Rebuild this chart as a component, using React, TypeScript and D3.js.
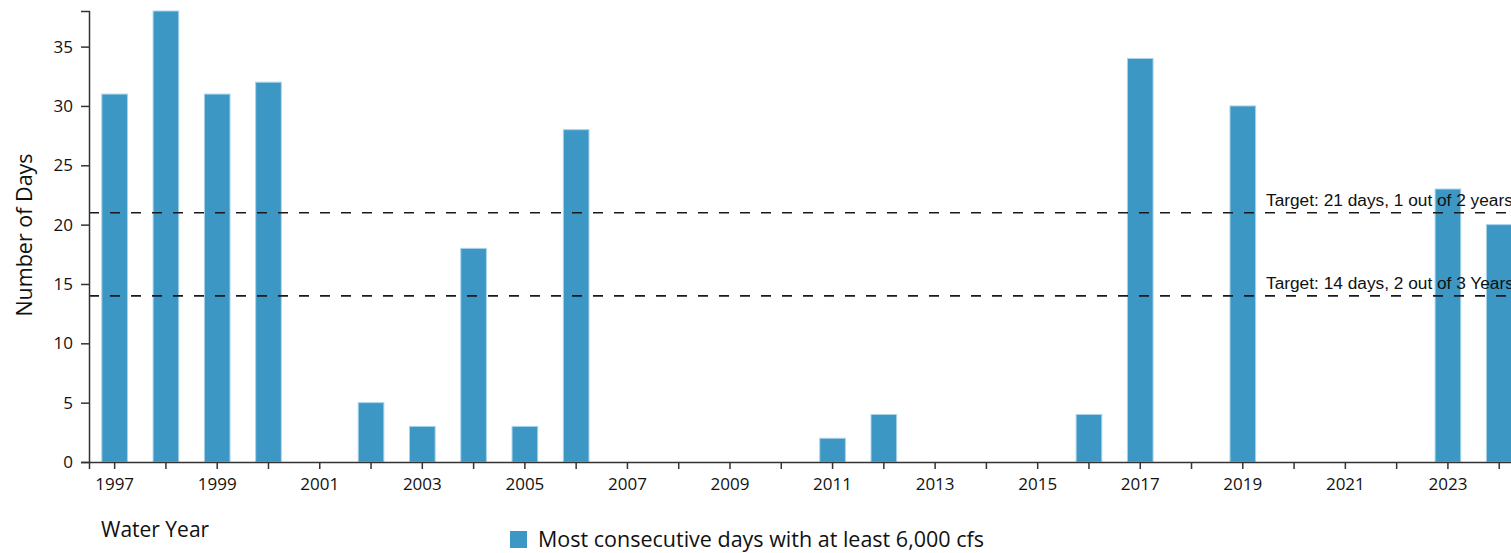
import React, { useEffect, useRef } from "react";
import * as d3 from "d3";

const years: number[] = [1997, 1998, 1999, 2000, 2001, 2002, 2003, 2004, 2005, 2006, 2007, 2008, 2009, 2010, 2011, 2012, 2013, 2014, 2015, 2016, 2017, 2018, 2019, 2020, 2021, 2022, 2023, 2024];
const days: number[] = [31, 38, 31, 32, 0, 5, 3, 18, 3, 28, 0, 0, 0, 0, 2, 4, 0, 0, 0, 4, 34, 0, 30, 0, 0, 0, 23, 20];
const yTicks: number[] = [0, 5, 10, 15, 20, 25, 30, 35];
const targetValues: number[] = [21, 14];
const targetLabels: string[] = ["Target: 21 days, 1 out of 2 years", "Target: 14 days, 2 out of 3 Years"];
const seriesName = "Most consecutive days with at least 6,000 cfs";
const xTitle = "Water Year";
const yTitle = "Number of Days";

const W = 1511;
const H = 553;
const BAR = "#3c97c4";
const AXIS = "#333";
const FONT = "'Open Sans', sans-serif";

export default function App() {
  const ref = useRef<SVGSVGElement>(null);
  useEffect(() => {
    const svg = d3.select(ref.current);
    svg.selectAll("*").remove();
    const x = d3.scaleBand<string>()
      .domain(years.map(String))
      .range([89, 89 + 51.28 * 28])
      .paddingInner(0.5)
      .paddingOuter(0.25);
    const y = d3.scaleLinear().domain([0, 38]).range([462, 11]);

    // bars
    svg.append("g").selectAll("rect")
      .data(years.map((yr, i) => ({ yr: String(yr), v: days[i] })).filter(d => d.v > 0))
      .join("rect")
      .attr("x", d => x(d.yr)!)
      .attr("y", d => y(d.v))
      .attr("width", x.bandwidth())
      .attr("height", d => y(0) - y(d.v))
      .attr("fill", BAR)
      .attr("stroke", "#a9d3ea")
      .attr("stroke-width", 1);

    // target lines
    const tg = svg.append("g");
    targetValues.forEach((t, i) => {
      tg.append("line")
        .attr("x1", 89).attr("x2", W)
        .attr("y1", y(t)).attr("y2", y(t))
        .attr("stroke", "#1a1a1a").attr("stroke-width", 1.6)
        .attr("stroke-dasharray", "10,11");
      tg.append("text")
        .attr("x", 1266).attr("y", y(t) - 7)
        .attr("font-family", "'Liberation Sans', Arial, sans-serif")
        .attr("font-size", 17.3)
        .attr("fill", "#111")
        .text(targetLabels[i]);
    });

    // x axis
    const xAxis = d3.axisBottom(x)
      .tickSizeInner(7)
      .tickSizeOuter(7)
      .tickPadding(9)
      .tickFormat(d => (+d % 2 === 1 ? d : ""));
    const gx = svg.append("g").attr("transform", `translate(0,${y(0)})`).call(xAxis);
    gx.selectAll("path,line").attr("stroke", AXIS).attr("stroke-width", 1.5);
    gx.selectAll("text").attr("font-family", FONT).attr("font-size", 17).attr("fill", "#111");

    // y axis
    const yAxis = d3.axisLeft(y).tickValues(yTicks).tickSizeInner(8).tickSizeOuter(8).tickPadding(8);
    const gy = svg.append("g").attr("transform", "translate(89,0)").call(yAxis);
    gy.selectAll("path,line").attr("stroke", AXIS).attr("stroke-width", 1.5);
    gy.selectAll("text").attr("font-family", FONT).attr("font-size", 17).attr("fill", "#111");

    // titles
    svg.append("text")
      .attr("transform", `translate(32,${235}) rotate(-90)`)
      .attr("text-anchor", "middle")
      .attr("font-family", FONT).attr("font-size", 21.5).attr("fill", "#111")
      .text(yTitle);
    svg.append("text")
      .attr("x", 101).attr("y", 537)
      .attr("font-family", FONT).attr("font-size", 21).attr("fill", "#111")
      .text(xTitle);

    // legend
    svg.append("rect").attr("x", 510).attr("y", 531).attr("width", 17).attr("height", 17).attr("fill", BAR);
    svg.append("text")
      .attr("x", 538).attr("y", 547)
      .attr("font-family", FONT).attr("font-size", 21.5).attr("fill", "#111")
      .text(seriesName);
  }, []);
  return (
    <svg ref={ref} width={W} height={H}
      style={{ position: "absolute", left: 0, top: 0, display: "block", overflow: "hidden", background: "#fff" }} />
  );
}
